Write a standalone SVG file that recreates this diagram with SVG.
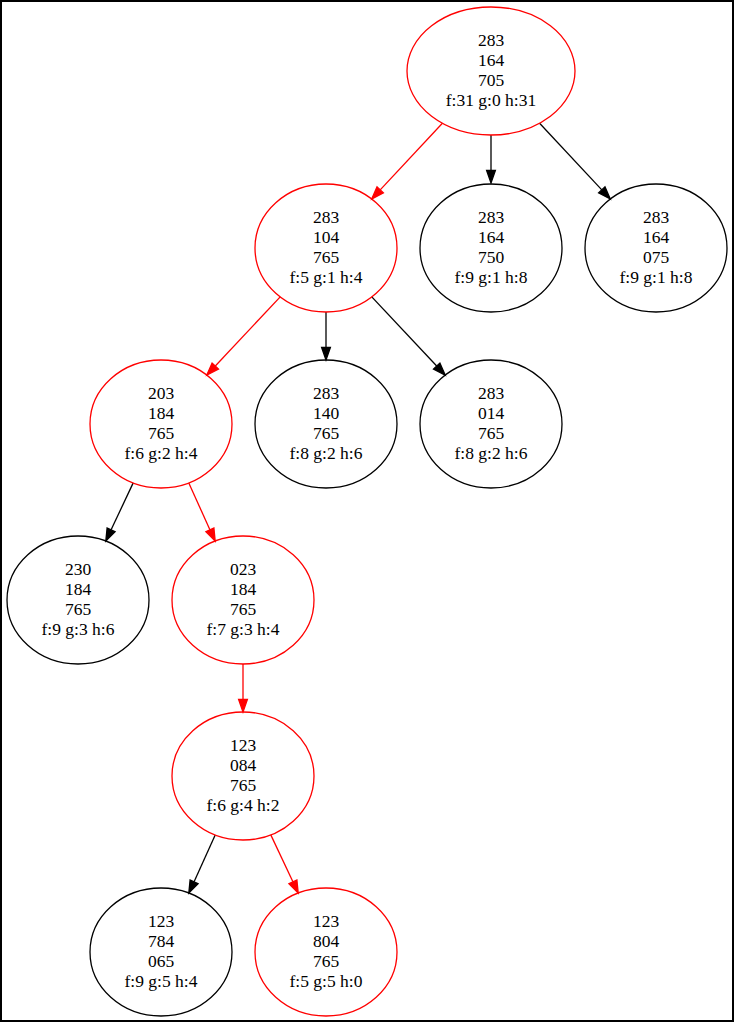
<svg xmlns="http://www.w3.org/2000/svg" width="735" height="1025" viewBox="0 0 735 1025">
<style>
.n ellipse{fill:none;stroke:#000;stroke-width:1.3}
.n.r ellipse{stroke:#ff0000}
.n text{font-family:"Liberation Serif","Times New Roman",serif;font-size:17.5px;text-anchor:middle;fill:#000}
.e line{stroke:#000;stroke-width:1.3;fill:none}
.e polygon{fill:#000;stroke:#000;stroke-width:1.3}
.e.r line{stroke:#ff0000}
.e.r polygon{fill:#ff0000;stroke:#ff0000}
</style>
<rect x="0" y="0" width="735" height="1025" fill="#fff"/>
<rect x="1" y="1" width="732" height="1020" fill="none" stroke="#000" stroke-width="2"/>
<g id="connectors">
<g class="e r"><line x1="442.4" y1="123.2" x2="380.2" y2="189.9"/><polygon points="371.7,199 377,186.9 383.4,192.9"/></g>
<g class="e"><line x1="491" y1="135" x2="491" y2="170.5"/><polygon points="491,183 486.6,170.5 495.4,170.5"/></g>
<g class="e"><line x1="539.6" y1="123.2" x2="601.8" y2="189.9"/><polygon points="610.3,199 598.6,192.9 605,186.9"/></g>
<g class="e r"><line x1="280.2" y1="296.9" x2="215.3" y2="366"/><polygon points="206.8,375.1 212.1,363 218.5,369"/></g>
<g class="e"><line x1="326" y1="312" x2="326" y2="347.5"/><polygon points="326,360 321.6,347.5 330.4,347.5"/></g>
<g class="e"><line x1="371.8" y1="296.9" x2="436.7" y2="366"/><polygon points="445.2,375.1 433.5,369 439.9,363"/></g>
<g class="e"><line x1="133.2" y1="482.9" x2="111.1" y2="529.8"/><polygon points="105.8,541.1 107.1,527.9 115.1,531.7"/></g>
<g class="e r"><line x1="188.8" y1="482.9" x2="209.9" y2="529.8"/><polygon points="215.2,541.1 205.9,531.6 213.9,528"/></g>
<g class="e r"><line x1="243" y1="664" x2="243" y2="699.5"/><polygon points="243,712 238.6,699.5 247.4,699.5"/></g>
<g class="e"><line x1="215.2" y1="834.9" x2="194.1" y2="881.8"/><polygon points="188.8,893.1 190.1,879.9 198.1,883.7"/></g>
<g class="e r"><line x1="270.8" y1="834.9" x2="292.9" y2="881.8"/><polygon points="298.2,893.1 288.9,883.7 296.9,879.9"/></g>
</g>
<g id="n0" class="n r"><ellipse cx="491" cy="71" rx="84" ry="64"/><text x="491" y="46">283</text><text x="491" y="66">164</text><text x="491" y="86">705</text><text x="491" y="106">f:31 g:0 h:31</text></g>
<g id="n1" class="n r"><ellipse cx="326" cy="248" rx="71" ry="64"/><text x="326" y="223">283</text><text x="326" y="243">104</text><text x="326" y="263">765</text><text x="326" y="283">f:5 g:1 h:4</text></g>
<g id="n2" class="n"><ellipse cx="491" cy="248" rx="71" ry="64"/><text x="491" y="223">283</text><text x="491" y="243">164</text><text x="491" y="263">750</text><text x="491" y="283">f:9 g:1 h:8</text></g>
<g id="n3" class="n"><ellipse cx="656" cy="248" rx="71" ry="64"/><text x="656" y="223">283</text><text x="656" y="243">164</text><text x="656" y="263">075</text><text x="656" y="283">f:9 g:1 h:8</text></g>
<g id="n4" class="n r"><ellipse cx="161" cy="424" rx="71" ry="64"/><text x="161" y="399">203</text><text x="161" y="419">184</text><text x="161" y="439">765</text><text x="161" y="459">f:6 g:2 h:4</text></g>
<g id="n5" class="n"><ellipse cx="326" cy="424" rx="71" ry="64"/><text x="326" y="399">283</text><text x="326" y="419">140</text><text x="326" y="439">765</text><text x="326" y="459">f:8 g:2 h:6</text></g>
<g id="n6" class="n"><ellipse cx="491" cy="424" rx="71" ry="64"/><text x="491" y="399">283</text><text x="491" y="419">014</text><text x="491" y="439">765</text><text x="491" y="459">f:8 g:2 h:6</text></g>
<g id="n7" class="n"><ellipse cx="78" cy="600" rx="71" ry="64"/><text x="78" y="575">230</text><text x="78" y="595">184</text><text x="78" y="615">765</text><text x="78" y="635">f:9 g:3 h:6</text></g>
<g id="n8" class="n r"><ellipse cx="243" cy="600" rx="71" ry="64"/><text x="243" y="575">023</text><text x="243" y="595">184</text><text x="243" y="615">765</text><text x="243" y="635">f:7 g:3 h:4</text></g>
<g id="n9" class="n r"><ellipse cx="243" cy="776" rx="71" ry="64"/><text x="243" y="751">123</text><text x="243" y="771">084</text><text x="243" y="791">765</text><text x="243" y="811">f:6 g:4 h:2</text></g>
<g id="n10" class="n"><ellipse cx="161" cy="952" rx="71" ry="64"/><text x="161" y="927">123</text><text x="161" y="947">784</text><text x="161" y="967">065</text><text x="161" y="987">f:9 g:5 h:4</text></g>
<g id="n11" class="n r"><ellipse cx="326" cy="952" rx="71" ry="64"/><text x="326" y="927">123</text><text x="326" y="947">804</text><text x="326" y="967">765</text><text x="326" y="987">f:5 g:5 h:0</text></g>
</svg>
